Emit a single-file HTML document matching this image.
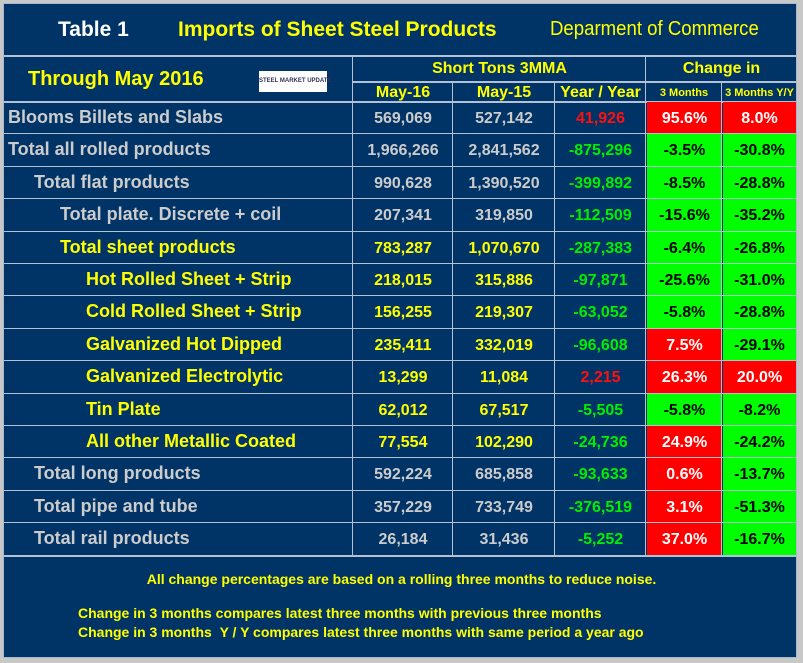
<!DOCTYPE html><html><head><style>
body{margin:0;width:803px;height:663px;background:#c8c8c8;position:relative;overflow:hidden;font-family:"Liberation Sans",Arial,sans-serif;font-weight:bold}
.p{position:absolute;left:3px;top:3px;width:792px;height:653px;background:#003366;border:1px solid #aab8cc}
.a{position:absolute;white-space:nowrap}
.h{position:absolute;height:2px;background:#b4c0d4}
.v{position:absolute;width:2px;background:#b4c0d4}
.g{color:#cccccc}.y{color:#ffff00}.gr{color:#00ee00}.r{color:#ff1010}
.cell{position:absolute;height:32px;line-height:32px;text-align:center;font-size:16px}
.n{display:inline-block;transform:scaleX(0.93);transform-origin:left center}
</style></head><body>
<div class="p"></div>
<div class="a" style="left:58px;top:18px;font-size:21px;color:#fff">Table 1</div>
<div class="a y" style="left:178px;top:18px;font-size:21px">Imports of Sheet Steel Products</div>
<div class="a y" style="left:550px;top:18px;font-size:20px;font-weight:normal"><span class="n">Deparment of Commerce</span></div>
<div class="h" style="left:4px;top:55px;width:792px"></div>
<div class="a y" style="left:28px;top:68px;font-size:20px">Through May 2016</div>
<div class="a" style="left:259px;top:71px;width:68px;height:21px;background:#fff;font-size:6px;line-height:21px;color:#335;text-align:center">STEEL MARKET UPDATE</div>
<div class="a y" style="left:353px;width:293px;top:60px;text-align:center;font-size:16px">Short Tons 3MMA</div>
<div class="a y" style="left:646px;width:151px;top:60px;text-align:center;font-size:16px">Change in</div>
<div class="h" style="left:353px;top:81px;width:443px"></div>
<div class="a y" style="left:353px;width:100px;top:84px;text-align:center;font-size:16px">May-16</div>
<div class="a y" style="left:453px;width:102px;top:84px;text-align:center;font-size:16px">May-15</div>
<div class="a y" style="left:555px;width:91px;top:84px;text-align:center;font-size:16px">Year / Year</div>
<div class="a y" style="left:646px;width:76px;top:87px;text-align:center;font-size:11px">3 Months</div>
<div class="a y" style="left:722px;width:75px;top:87px;text-align:center;font-size:11px">3 Months Y/Y</div>
<div id="rows"></div>
<div class="a y" style="left:0;width:803px;top:571px;text-align:center;font-size:14px">All change percentages are based on a rolling three months to reduce noise.</div>
<div class="a y" style="left:78px;top:605px;font-size:14px">Change in 3 months compares latest three months with previous three months</div>
<div class="a y" style="left:78px;top:624px;font-size:14px">Change in 3 months &nbsp;Y / Y compares latest three months with same period a year ago</div>
<script>
var R=[["Blooms Billets and Slabs",0,"g","569,069","527,142","41,926","r","95.6%","8.0%"],
["Total all rolled products",0,"g","1,966,266","2,841,562","-875,296","gr","-3.5%","-30.8%"],
["Total flat products",1,"g","990,628","1,390,520","-399,892","gr","-8.5%","-28.8%"],
["Total plate. Discrete + coil",2,"g","207,341","319,850","-112,509","gr","-15.6%","-35.2%"],
["Total sheet products",2,"y","783,287","1,070,670","-287,383","gr","-6.4%","-26.8%"],
["Hot Rolled Sheet + Strip",3,"y","218,015","315,886","-97,871","gr","-25.6%","-31.0%"],
["Cold Rolled Sheet + Strip",3,"y","156,255","219,307","-63,052","gr","-5.8%","-28.8%"],
["Galvanized Hot Dipped",3,"y","235,411","332,019","-96,608","gr","7.5%","-29.1%"],
["Galvanized Electrolytic",3,"y","13,299","11,084","2,215","r","26.3%","20.0%"],
["Tin Plate",3,"y","62,012","67,517","-5,505","gr","-5.8%","-8.2%"],
["All other Metallic Coated",3,"y","77,554","102,290","-24,736","gr","24.9%","-24.2%"],
["Total long products",1,"g","592,224","685,858","-93,633","gr","0.6%","-13.7%"],
["Total pipe and tube",1,"g","357,229","733,749","-376,519","gr","3.1%","-51.3%"],
["Total rail products",1,"g","26,184","31,436","-5,252","gr","37.0%","-16.7%"]];
var h="",t0=102,rh=32.4;
h+='<div class="h" style="left:4px;top:101px;width:792px"></div>';
R.forEach(function(r,i){var t=Math.round(t0+i*rh);
function cc(v){return v.charAt(0)=="-"?"#00ff00":"#ff0000"}
function tc(v){return v.charAt(0)=="-"?"#000":"#fff"}
h+='<div class="a '+r[2]+'" style="left:'+(8+r[1]*26)+'px;top:'+(t-1)+'px;line-height:32px;font-size:18px">'+r[0]+'</div>';
h+='<div class="cell '+r[2]+'" style="left:353px;width:100px;top:'+(t+1)+'px">'+r[3]+'</div>';
h+='<div class="cell '+r[2]+'" style="left:453px;width:102px;top:'+(t+1)+'px">'+r[4]+'</div>';
h+='<div class="cell '+r[6]+'" style="left:555px;width:91px;top:'+(t+1)+'px">'+r[5]+'</div>';
h+='<div class="cell" style="left:647px;width:75px;top:'+t+'px;height:33px;line-height:34px;background:'+cc(r[7])+';color:'+tc(r[7])+'">'+r[7]+'</div>';
h+='<div class="cell" style="left:723px;width:73px;top:'+t+'px;height:33px;line-height:34px;background:'+cc(r[8])+';color:'+tc(r[8])+'">'+r[8]+'</div>';
h+='<div class="h" style="left:4px;top:'+Math.round(t0+(i+1)*rh-1)+'px;width:792px;height:1px"></div>';
});
[[353,56],[453,82],[555,82],[646,56],[722,82]].forEach(function(c){h+='<div class="v" style="left:'+(c[0]-1)+'px;top:'+c[1]+'px;height:'+(556-c[1])+'px;width:1px"></div>'});
h+='<div class="h" style="left:4px;top:555px;width:792px"></div>';
document.getElementById("rows").innerHTML=h;
</script>
</body></html>
